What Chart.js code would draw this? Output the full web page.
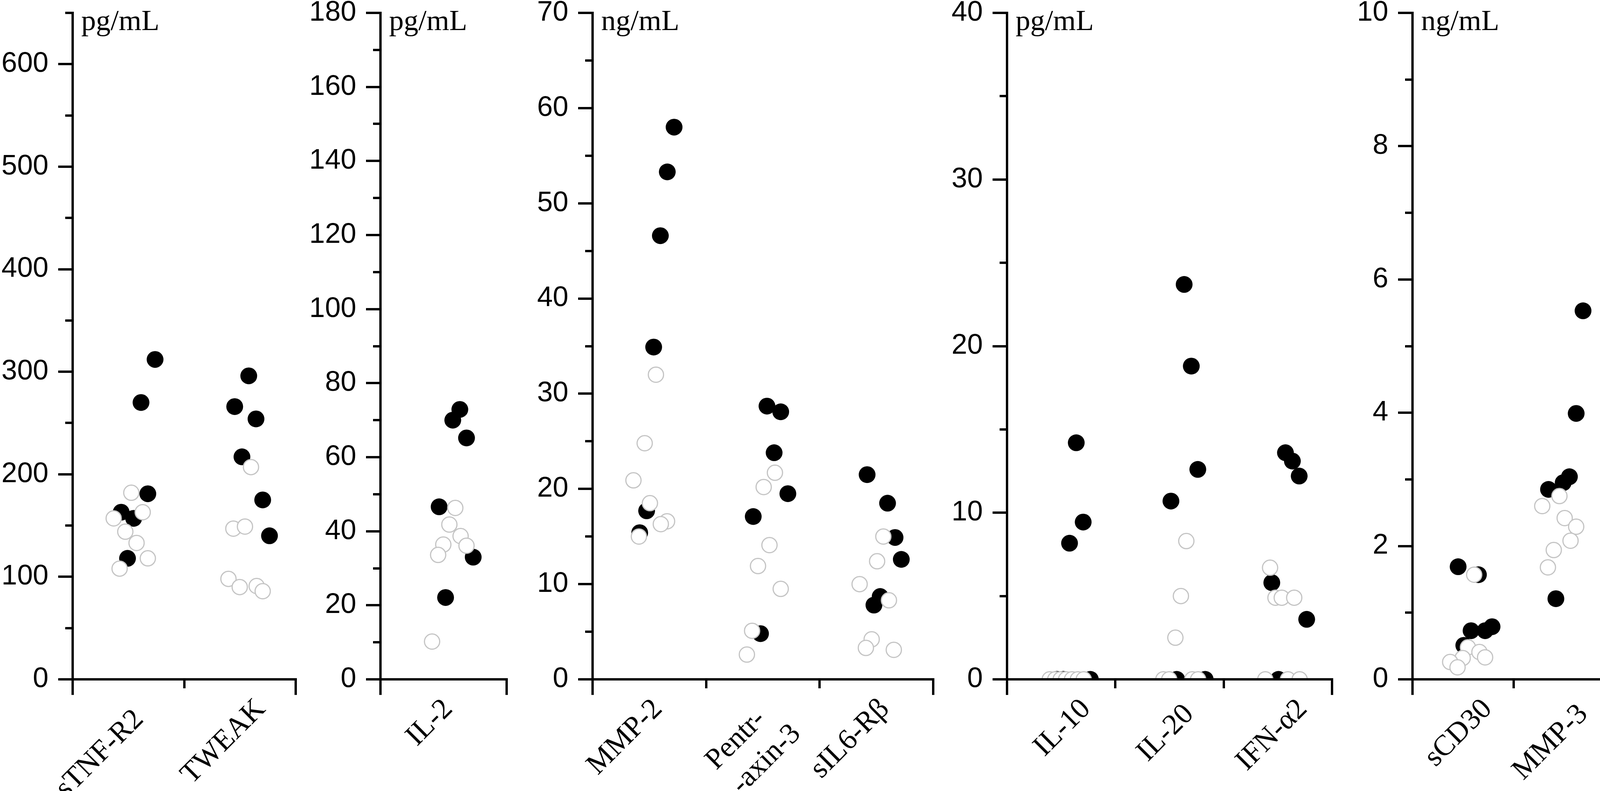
<!DOCTYPE html>
<html><head><meta charset="utf-8">
<script src="https://cdn.jsdelivr.net/npm/chart.js@4.4.1/dist/chart.umd.min.js"></script>
<style>
html,body{margin:0;padding:0;background:#fff;width:4140px;height:2026px;overflow:hidden;position:relative}
canvas{position:absolute;top:0}
</style></head><body>
<script>
// ---------- DATA ----------
// Category labels per panel
const p1Labels = ['sTNF-R2', 'TWEAK'];
const p2Labels = ['IL-2'];
const p3Labels = ['MMP-2', ['Pentr-', '-axin-3'], 'sIL6-Rβ'];
const p4Labels = ['IL-10', 'IL-20', 'IFN-α2'];
const p5Labels = ['sCD30', 'MMP-3'];
const units = ['pg/mL', 'pg/mL', 'ng/mL', 'pg/mL', 'ng/mL'];
const axisMax = [650, 180, 70, 40, 10];
const majorStep = [100, 20, 10, 10, 2];
const minorStep = [50, 10, 5, 5, 1];

// Filled (black) and open (grey) points; *Jit = horizontal scatter inside a category (category units)
const sTNFR2_filled = [312, 270, 181, 163, 157, 118];
const sTNFR2_filledJit = [0.239, 0.113, 0.174, -0.065, 0.047, -0.008];
const sTNFR2_open = [182, 163, 157, 144, 133, 118, 108];
const sTNFR2_openJit = [0.026, 0.128, -0.132, -0.028, 0.073, 0.174, -0.079];

const TWEAK_filled = [296, 266, 254, 217, 175, 140];
const TWEAK_filledJit = [0.079, -0.047, 0.144, 0.018, 0.204, 0.265];
const TWEAK_open = [207, 147, 149, 98, 90, 91, 86];
const TWEAK_openJit = [0.099, -0.059, 0.045, -0.103, -0.002, 0.150, 0.204];

const IL2_filled = [72.9, 70.0, 65.2, 46.6, 33.0, 22.1];
const IL2_filledJit = [0.129, 0.073, 0.182, -0.035, 0.235, 0.016];
const IL2_open = [46.3, 41.8, 38.7, 36.4, 36.1, 33.6, 10.2];
const IL2_openJit = [0.093, 0.046, 0.135, -0.002, 0.182, -0.043, -0.091];

const MMP2_filled = [58.0, 53.3, 46.6, 34.9, 17.7, 15.4];
const MMP2_filledJit = [0.218, 0.158, 0.097, 0.038, -0.024, -0.085];
const MMP2_open = [32.0, 24.8, 20.9, 18.5, 16.6, 16.3, 15.0];
const MMP2_openJit = [0.058, -0.041, -0.14, 0.005, 0.156, 0.101, -0.092];

const PTX3_filled = [28.7, 28.1, 23.8, 19.5, 17.1, 4.8];
const PTX3_filledJit = [0.036, 0.157, 0.099, 0.220, -0.085, -0.021];
const PTX3_open = [21.7, 20.2, 14.1, 11.9, 9.5, 5.1, 2.6];
const PTX3_openJit = [0.106, 0.007, 0.058, -0.043, 0.157, -0.095, -0.141];

const sIL6Rb_filled = [21.5, 18.5, 14.9, 12.6, 8.7, 7.8];
const sIL6Rb_filledJit = [-0.082, 0.098, 0.164, 0.219, 0.033, -0.022];
const sIL6Rb_open = [15.0, 12.4, 10.0, 8.3, 4.2, 3.3, 3.1];
const sIL6Rb_openJit = [0.061, 0.006, -0.148, 0.110, -0.042, -0.093, 0.153];

const IL10_filled = [14.2, 9.44, 8.17, 0, 0, 0];
const IL10_filledJit = [0.139, 0.203, 0.077, 0.269, -0.041, 0.02];
const IL10_open = [0, 0, 0, 0, 0, 0, 0];
const IL10_openJit = [-0.106, -0.055, -0.005, 0.045, 0.1, 0.154, 0.208];

const IL20_filled = [23.7, 18.8, 12.6, 10.7, 0, 0];
const IL20_filledJit = [0.135, 0.201, 0.261, 0.013, 0.066, 0.329];
const IL20_open = [8.3, 5.0, 2.5, 0, 0, 0, 0];
const IL20_openJit = [0.155, 0.105, 0.054, -0.057, -0.003, 0.21, 0.264];

const IFNa2_filled = [13.6, 13.1, 12.2, 5.8, 3.6, 0];
const IFNa2_filledJit = [0.07, 0.134, 0.197, -0.056, 0.266, 0.006];
const IFNa2_open = [6.7, 4.9, 4.9, 4.9, 0, 0, 0];
const IFNa2_openJit = [-0.072, -0.022, 0.036, 0.151, -0.116, 0.093, 0.201];

const sCD30_filled = [1.69, 1.57, 0.73, 0.73, 0.79, 0.51];
const sCD30_filledJit = [-0.048, 0.153, 0.08, 0.219, 0.288, 0.008];
const sCD30_open = [1.57, 0.48, 0.41, 0.33, 0.32, 0.26, 0.18];
const sCD30_openJit = [0.111, 0.049, 0.163, 0.219, -0.003, -0.127, -0.054];

const MMP3_filled = [5.53, 3.99, 3.04, 2.95, 2.85, 1.21];
const MMP3_filledJit = [0.189, 0.121, 0.054, -0.008, -0.153, -0.08];
const MMP3_open = [2.75, 2.6, 2.42, 2.29, 2.08, 1.94, 1.68];
const MMP3_openJit = [-0.045, -0.215, 0.007, 0.121, 0.065, -0.101, -0.159];

// ---------- LAYOUT / STYLE ----------
const PAGE_H = 2026, AREA_TOP = 33, AREA_BOTTOM = 1740, LEFT_SPACE = 190, RIGHT_SPACE = 30;
// labelPad: trailing no-break spaces per category label (fine horizontal placement of rotated labels)
const panelLayout = [
  {axisX: 186, endX: 757, labelOffset: 54, labelPad: [2, 0]},
  {axisX: 974, endX: 1297, labelOffset: 12, labelPad: [0]},
  {axisX: 1517, endX: 2389, labelOffset: 22, labelPad: [0, 2, 0]},
  {axisX: 2578, endX: 3410, labelOffset: 64, labelPad: [0, 1, 0]},
  {axisX: 3616, endX: 4133, labelOffset: 63, labelPad: [0, 1]}
];
const panelLabels = [p1Labels, p2Labels, p3Labels, p4Labels, p5Labels];
const panelGroups = [
  [[sTNFR2_filled, sTNFR2_filledJit, sTNFR2_open, sTNFR2_openJit],
   [TWEAK_filled, TWEAK_filledJit, TWEAK_open, TWEAK_openJit]],
  [[IL2_filled, IL2_filledJit, IL2_open, IL2_openJit]],
  [[MMP2_filled, MMP2_filledJit, MMP2_open, MMP2_openJit],
   [PTX3_filled, PTX3_filledJit, PTX3_open, PTX3_openJit],
   [sIL6Rb_filled, sIL6Rb_filledJit, sIL6Rb_open, sIL6Rb_openJit]],
  [[IL10_filled, IL10_filledJit, IL10_open, IL10_openJit],
   [IL20_filled, IL20_filledJit, IL20_open, IL20_openJit],
   [IFNa2_filled, IFNa2_filledJit, IFNa2_open, IFNa2_openJit]],
  [[sCD30_filled, sCD30_filledJit, sCD30_open, sCD30_openJit],
   [MMP3_filled, MMP3_filledJit, MMP3_open, MMP3_openJit]]
];

const SANS = '"Liberation Sans", Arial, Helvetica, sans-serif';
const SERIF = '"Liberation Serif", "Times New Roman", serif';
const OPEN_GREY = '#c4c4c4';

const panelDecor = {
  id: 'panelDecor',
  afterDraw(chart, args, opts) {
    const {ctx, chartArea: a} = chart;
    ctx.save();
    ctx.strokeStyle = '#000';
    ctx.lineWidth = 6;
    ctx.lineCap = 'butt';
    ctx.beginPath();
    ctx.moveTo(a.left, a.bottom - 3); ctx.lineTo(a.left, a.bottom + 40);
    ctx.moveTo(a.right, a.bottom - 3); ctx.lineTo(a.right, a.bottom + 40);
    ctx.stroke();
    ctx.fillStyle = '#000';
    ctx.font = '75px ' + SERIF;
    ctx.textBaseline = 'alphabetic';
    ctx.textAlign = 'left';
    ctx.fillText(opts.unit, a.left + 22, a.top + 44);
    ctx.restore();
  }
};

function buildPoints(groups, which) {
  const pts = [];
  groups.forEach((g, ci) => {
    const vals = which === 'filled' ? g[0] : g[2];
    const jit = which === 'filled' ? g[1] : g[3];
    vals.forEach((v, k) => pts.push({x: ci + jit[k], y: v}));
  });
  return pts;
}

panelLayout.forEach((L, pi) => {
  const labels = panelLabels[pi];
  const n = labels.length;
  const width = (L.endX - L.axisX) + LEFT_SPACE + RIGHT_SPACE;
  const canvas = document.createElement('canvas');
  canvas.width = width; canvas.height = PAGE_H;
  canvas.style.left = (L.axisX - LEFT_SPACE) + 'px';
  canvas.style.width = width + 'px';
  canvas.style.height = PAGE_H + 'px';
  document.body.appendChild(canvas);

  const labelFor = (v) => {
    if (!Number.isInteger(v) || v < 0 || v >= n) return '';
    const lab = labels[v];
    const pad = '\u00A0'.repeat(L.labelPad[v] || 0);
    return Array.isArray(lab) ? [lab[0] + pad].concat(lab.slice(1)) : lab + pad;
  };

  new Chart(canvas, {
    type: 'scatter',
    data: {
      datasets: [
        {label: 'open', data: buildPoints(panelGroups[pi], 'open'), order: 0, clip: 0,
         pointRadius: 19.5, pointBorderWidth: 3, pointBackgroundColor: '#ffffff', pointBorderColor: OPEN_GREY,
         pointHoverRadius: 19.5},
        {label: 'filled', data: buildPoints(panelGroups[pi], 'filled'), order: 1, clip: 0,
         pointRadius: 21.5, pointBorderWidth: 0, pointBackgroundColor: '#000000', pointBorderColor: '#000000',
         pointHoverRadius: 21.5}
      ]
    },
    options: {
      responsive: false, devicePixelRatio: 1, animation: false, events: [],
      layout: {padding: {top: AREA_TOP, right: RIGHT_SPACE, left: 0, bottom: 0}},
      plugins: {legend: {display: false}, tooltip: {enabled: false}, panelDecor: {unit: units[pi]}},
      scales: {
        x: {
          type: 'linear', position: 'bottom', min: -0.5, max: n - 0.5,
          afterFit(s) { s.height = PAGE_H - AREA_BOTTOM; s.paddingLeft = 0; s.paddingRight = 0; },
          border: {display: true, color: '#000', width: 6, z: 1},
          grid: {
            drawOnChartArea: false, drawTicks: true, tickLength: 23, lineWidth: 6, tickWidth: 6,
            tickColor: (ctx) => {
              const v = ctx.tick ? ctx.tick.value : 0;
              const boundary = !Number.isInteger(v);
              const end = Math.abs(v + 0.5) < 1e-6 || Math.abs(v - (n - 0.5)) < 1e-6;
              return boundary && !end ? '#000' : 'rgba(0,0,0,0)';
            }
          },
          ticks: {
            stepSize: 0.5, autoSkip: false, minRotation: 45, maxRotation: 45, padding: 10,
            labelOffset: L.labelOffset, color: '#000',
            font: {family: SERIF, size: 75},
            callback: labelFor
          }
        },
        y: {
          type: 'linear', position: 'left', weight: 1, min: 0, max: axisMax[pi],
          afterFit(s) { s.width = LEFT_SPACE; s.paddingTop = 0; s.paddingBottom = 0; },
          border: {display: true, color: '#000', width: 6},
          grid: {drawOnChartArea: false, drawTicks: true, tickLength: 37, lineWidth: 6, tickWidth: 6, tickColor: '#000'},
          ticks: {stepSize: majorStep[pi], includeBounds: false, padding: 25, color: '#000',
                  font: {family: SANS, size: 72}}
        },
        yMinor: {
          type: 'linear', position: 'left', weight: 0, min: 0, max: axisMax[pi],
          afterFit(s) { s.width = 0; s.paddingTop = 0; s.paddingBottom = 0; },
          border: {display: false},
          grid: {drawOnChartArea: false, drawTicks: true, tickLength: 19, lineWidth: 6, tickWidth: 6, tickColor: '#000'},
          ticks: {stepSize: minorStep[pi], display: false}
        }
      }
    },
    plugins: [panelDecor]
  });
});
</script>
</body></html>
